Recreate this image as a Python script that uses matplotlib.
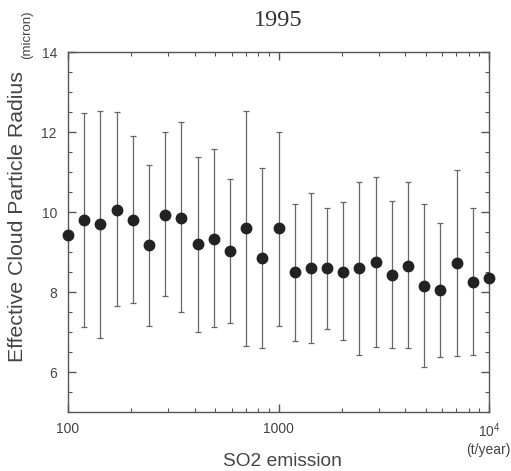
import numpy as np
import matplotlib
matplotlib.use("Agg")
import matplotlib.pyplot as plt
from matplotlib.ticker import FixedLocator, FixedFormatter, MultipleLocator, LogLocator, NullFormatter

# Data
idx = list(range(27))  # log-spaced emission bins from 100 to 10^4 t/year
emission = [100 * 10 ** (i * 2 / 26) for i in idx]
radius = [9.43, 9.79, 9.69, 10.06, 9.79, 9.17, 9.93, 9.85, 9.19, 9.33, 9.03, 9.59, 8.85,
          9.59, 8.51, 8.61, 8.59, 8.51, 8.59, 8.74, 8.43, 8.66, 8.16, 8.04, 8.73, 8.24, 8.35]
upper = [9.43, 12.47, 12.53, 12.49, 11.91, 11.17, 11.99, 12.26, 11.38, 11.57, 10.82, 12.52, 11.09,
         11.99, 10.21, 10.47, 10.11, 10.24, 10.74, 10.88, 10.28, 10.74, 10.21, 9.72, 11.06, 10.09, 8.35]
lower = [9.43, 7.12, 6.86, 7.64, 7.72, 7.16, 7.91, 7.49, 7.00, 7.12, 7.22, 6.65, 6.59,
         7.16, 6.78, 6.73, 7.08, 6.80, 6.43, 6.62, 6.59, 6.59, 6.13, 6.38, 6.41, 6.43, 8.35]
xtick_vals = [100, 1000, 10000]
xtick_labels = ["100", "1000", "$10^4$"]
ytick_vals = [6, 8, 10, 12, 14]

r = np.array(radius)
yerr = np.vstack([r - np.array(lower), np.array(upper) - r])

plt.rcParams['font.family'] = ['Liberation Sans', 'DejaVu Sans']
plt.rcParams['mathtext.fontset'] = 'custom'
plt.rcParams['mathtext.rm'] = 'Liberation Sans'

fig = plt.figure(figsize=(5.11, 4.71), dpi=100)
ax = fig.add_axes([68/511, 1-412/471, (489-68)/511, (412-52)/471])

ax.errorbar(emission, radius, yerr=yerr, fmt='o', color='#222222', ms=7.5,
            ecolor='#666666', elinewidth=0.9, capsize=2, capthick=0.9, zorder=3, clip_on=False)

ax.set_xscale('log')
ax.set_xlim(100, 10000)
ax.set_ylim(5, 14)
ax.xaxis.set_major_locator(FixedLocator(xtick_vals))
ax.xaxis.set_major_formatter(FixedFormatter(xtick_labels))
ax.xaxis.set_minor_locator(LogLocator(base=10, subs=np.arange(2, 10)))
ax.xaxis.set_minor_formatter(NullFormatter())
ax.yaxis.set_major_locator(FixedLocator(ytick_vals))
ax.yaxis.set_minor_locator(MultipleLocator(0.5))

for s in ax.spines.values():
    s.set_color('#555555')
    s.set_linewidth(1.0)
ax.tick_params(which='both', direction='in', top=True, right=True, colors='#555555',
               labelcolor='#444444', labelsize=10)
ax.tick_params(which='major', length=6, width=1)
ax.tick_params(which='minor', length=3, width=0.8)
ax.tick_params(axis='x', pad=7)
ax.tick_params(axis='y', pad=8)

fig.text(278/511, 1-20/471, "1995", ha='center', va='center', fontsize=17.5,
         family='Liberation Serif', color='#333333')
fig.text(18/511, 1-217/471, "Effective Cloud Particle Radius", rotation=90, ha='center',
         va='center', fontsize=15.3, color='#444444')
fig.text(27/511, 1-35/471, "(micron)", rotation=90, ha='center', va='center',
         fontsize=9.5, color='#444444')
fig.text(282/511, 1-461/471, "SO2 emission", ha='center', va='center', fontsize=13.8,
         color='#444444')
fig.text(488/511, 1-450/471, "(t/year)", ha='center', va='center', fontsize=10,
         color='#444444')

fig.savefig("out.png", dpi=100)
